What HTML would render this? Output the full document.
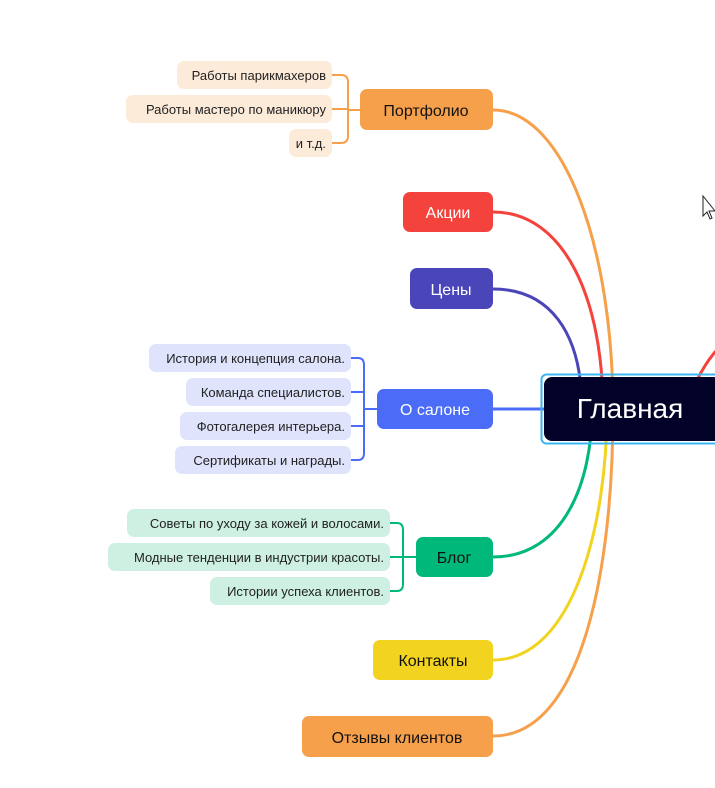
<!DOCTYPE html>
<html><head><meta charset="utf-8"><style>
html,body{margin:0;padding:0;background:#fff;}
svg{display:block;font-family:"Liberation Sans",sans-serif;}
</style></head><body>
<svg width="715" height="788" viewBox="0 0 715 788" xmlns="http://www.w3.org/2000/svg">
<g fill="none" stroke-width="3" stroke-linecap="round">
<path d="M493,110 C565,110 613,250 613,410" stroke="#f7a04b"/>
<path d="M493,212 C565,212 603,300 603,410" stroke="#f4433c"/>
<path d="M493,289 C548,289 582,330 582,410" stroke="#4a45b8"/>
<path d="M493,557 C565,557 592,480 592,410" stroke="#00b87a"/>
<path d="M493,660 C575,660 607,520 607,410" stroke="#f2d31f"/>
<path d="M493,736 C585,736 613,560 613,410" stroke="#f7a04b"/>
<path d="M697,380 C703,368 710,358 715,352" stroke="#f4433c"/>
<path d="M493,409 L545,409" stroke="#4a6cf7"/>
</g>
<!-- brackets -->
<g fill="none" stroke-width="2">
<path d="M360,110 H348 M332,75 H341 Q348,75 348,82 V136 Q348,143 341,143 H332 M332,109 H348" stroke="#f7a04b"/>
<path d="M377,409 H364 M351,358 H358 Q364,358 364,365 V453 Q364,460 358,460 H351 M351,392 H364 M351,426 H364" stroke="#4a6cf7"/>
<path d="M416,557 H403 M390,523 H397 Q403,523 403,530 V584 Q403,591 397,591 H390 M390,557 H403" stroke="#00b87a"/>
</g>
<!-- center -->
<rect x="541.5" y="374.5" width="180" height="69" rx="5" fill="none" stroke="#3bb6f0" stroke-width="2"/>
<rect x="544" y="377" width="180" height="64" rx="8" fill="#020228"/>
<text x="630" y="418" font-size="28" fill="#fff" text-anchor="middle">Главная</text>
<!-- main nodes -->
<g font-size="16" text-anchor="middle">
<rect x="360" y="89" width="133" height="41" rx="7" fill="#f7a04b"/><text x="426" y="116" fill="#111">Портфолио</text>
<rect x="403" y="192" width="90" height="40" rx="7" fill="#f4433c"/><text x="448" y="218" fill="#fff">Акции</text>
<rect x="410" y="268" width="83" height="41" rx="7" fill="#4a45b8"/><text x="451" y="295" fill="#fff">Цены</text>
<rect x="377" y="389" width="116" height="40" rx="7" fill="#4a6cf7"/><text x="435" y="415" fill="#fff">О салоне</text>
<rect x="416" y="537" width="77" height="40" rx="7" fill="#00b87a"/><text x="454" y="563" fill="#111">Блог</text>
<rect x="373" y="640" width="120" height="40" rx="7" fill="#f2d31f"/><text x="433" y="666" fill="#111">Контакты</text>
<rect x="302" y="716" width="191" height="41" rx="7" fill="#f7a04b"/><text x="397" y="743" fill="#111">Отзывы клиентов</text>
</g>
<!-- children -->
<g font-size="13" text-anchor="end" fill="#222">
<rect x="177" y="61" width="155" height="28" rx="7" fill="#fdebd9"/><text x="326" y="80">Работы парикмахеров</text>
<rect x="126" y="95" width="206" height="28" rx="7" fill="#fdebd9"/><text x="326" y="114">Работы мастеро по маникюру</text>
<rect x="289" y="129" width="43" height="28" rx="7" fill="#fdebd9"/><text x="326" y="148">и т.д.</text>
<rect x="149" y="344" width="202" height="28" rx="7" fill="#dfe3fb"/><text x="345" y="363">История и концепция салона.</text>
<rect x="186" y="378" width="165" height="28" rx="7" fill="#dfe3fb"/><text x="345" y="397">Команда специалистов.</text>
<rect x="180" y="412" width="171" height="28" rx="7" fill="#dfe3fb"/><text x="345" y="431">Фотогалерея интерьера.</text>
<rect x="175" y="446" width="176" height="28" rx="7" fill="#dfe3fb"/><text x="345" y="465">Сертификаты и награды.</text>
<rect x="127" y="509" width="263" height="28" rx="7" fill="#cdf0e2"/><text x="384" y="528">Советы по уходу за кожей и волосами.</text>
<rect x="108" y="543" width="282" height="28" rx="7" fill="#cdf0e2"/><text x="384" y="562">Модные тенденции в индустрии красоты.</text>
<rect x="210" y="577" width="180" height="28" rx="7" fill="#cdf0e2"/><text x="384" y="596">Истории успеха клиентов.</text>
</g>
<!-- cursor -->
<path d="M703,196 L703,216 L707,212 L710,219 L712,218 L709,211 L715,211 Z" fill="#fff" stroke="#222" stroke-width="1"/>
</svg>
</body></html>
